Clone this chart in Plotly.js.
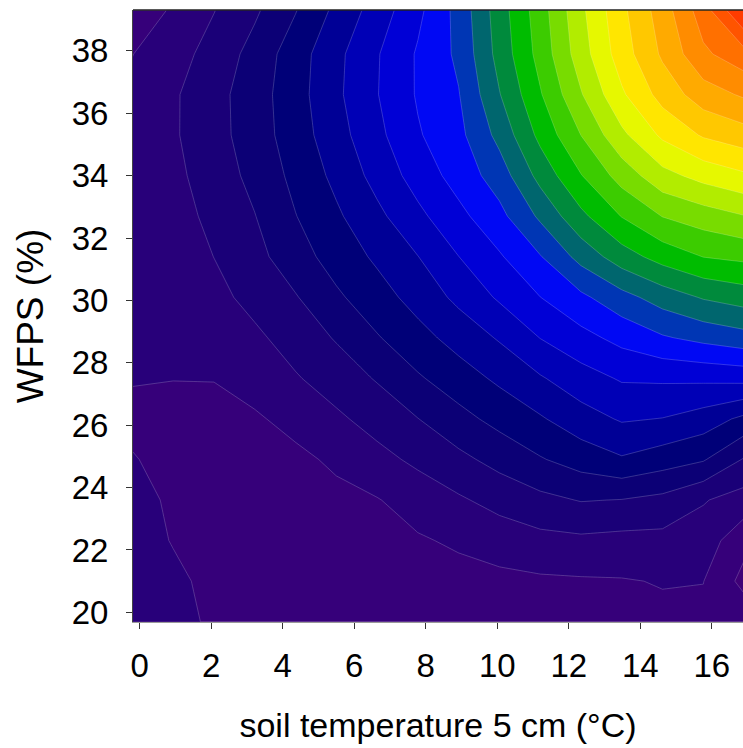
<!DOCTYPE html>
<html>
<head>
<meta charset="utf-8">
<script src="https://cdn.plot.ly/plotly-3.0.1.min.js"></script>
<style>html,body{margin:0;padding:0;background:#fff;}#chart{width:743px;height:748px;}</style>
</head>
<body>
<div id="chart"></div>
<script>
// soil temperature at 5 cm (°C) – grid columns
var soilTemp = [-0.2, 0.94, 2.08, 3.22, 4.36, 5.5, 6.64, 7.78, 8.92, 10.06, 11.2, 12.34, 13.48, 14.62, 15.76, 16.9];
// WFPS (%) – grid rows
var wfps = [19.7, 21.0, 22.3, 23.6, 24.9, 26.2, 27.5, 28.8, 30.1, 31.4, 32.7, 34.0, 35.3, 36.6, 37.9, 39.3];
// response values (rows follow wfps, columns follow soilTemp)
var flux = [
  [1.35, 1.2, 0.9, 0.75, 0.65, 0.62, 0.6, 0.6, 0.62, 0.65, 0.7, 0.72, 0.75, 0.8, 0.75, 0.7],
  [1.3, 1.12, 0.85, 0.7, 0.62, 0.6, 0.6, 0.62, 0.68, 0.75, 0.85, 0.9, 0.94, 1.05, 1.02, -0.3],
  [1.25, 0.97, 0.8, 0.7, 0.65, 0.7, 0.78, 0.9, 1.14, 1.46, 1.71, 1.8, 1.7, 1.7, 1.53, 0.3],
  [1.15, 0.93, 0.8, 0.72, 0.7, 0.72, 0.95, 1.41, 1.87, 2.33, 2.74, 3.05, 2.97, 2.73, 2.07, 1.58],
  [1.02, 0.9, 0.8, 0.78, 0.75, 1.19, 1.69, 2.21, 2.75, 3.33, 3.92, 4.43, 4.89, 4.47, 4.09, 2.92],
  [0.92, 0.85, 0.8, 0.86, 1.34, 1.82, 2.38, 2.98, 3.68, 4.31, 4.89, 5.58, 6.1, 5.97, 5.54, 4.76],
  [1.02, 1.01, 1.02, 1.45, 1.91, 2.47, 3.08, 3.88, 4.54, 5.19, 5.9, 6.58, 7.1, 7.15, 7.2, 7.31],
  [1.05, 1.15, 1.35, 1.8, 2.43, 3.08, 3.92, 4.66, 5.37, 6.1, 7.02, 7.68, 8.3, 8.89, 9.28, 9.62],
  [1.12, 1.3, 1.7, 2.32, 2.93, 3.83, 4.59, 5.37, 6.24, 7.14, 7.99, 8.79, 9.65, 10.45, 11.09, 11.45],
  [1.2, 1.38, 2.01, 2.69, 3.57, 4.42, 5.17, 5.98, 6.99, 7.89, 8.94, 10.34, 11.54, 12.4, 13.02, 13.23],
  [1.35, 1.57, 2.27, 2.97, 3.97, 4.84, 5.76, 6.76, 7.73, 8.71, 10.18, 11.76, 13.04, 14.03, 14.5, 14.96],
  [1.35, 1.75, 2.48, 3.28, 4.27, 5.25, 6.34, 7.42, 8.4, 9.48, 11.33, 12.95, 14.41, 15.67, 16.35, 16.84],
  [1.3, 1.88, 2.63, 3.51, 4.51, 5.6, 6.74, 7.9, 8.73, 10.3, 12.27, 14.01, 15.77, 17.19, 18.11, 18.57],
  [1.25, 1.87, 2.65, 3.54, 4.6, 5.8, 6.96, 8.1, 8.95, 10.95, 12.91, 14.92, 16.85, 18.38, 19.53, 20.14],
  [0.98, 1.61, 2.36, 3.36, 4.53, 5.74, 6.92, 8.11, 9.2, 11.36, 13.36, 15.54, 17.51, 19.16, 20.81, 21.63],
  [0.5, 1.1, 1.97, 2.84, 3.95, 5.24, 6.45, 7.76, 9.33, 11.52, 13.54, 15.78, 17.76, 19.5, 21.52, 24.1]
];
// band colours, lowest to highest
var bandColors = ['#3f0077','#36007a','#28007a','#1a0078','#0c0076','#000078','#000096','#0000b6','#0000d6','#0008f4',
  '#0036b4','#00666e','#008a3c','#00bc00','#3ccc00','#78dc00','#b2ec00','#e6f800','#ffe600','#ffc800',
  '#ffaa00','#ff8c00','#ff7000','#ff5400','#ff3c00'];
var xTicks = [0, 2, 4, 6, 8, 10, 12, 14, 16];
var yTicks = [20, 22, 24, 26, 28, 30, 32, 34, 36, 38];

var n = bandColors.length - 1;
var colorscale = bandColors.map(function(c, i){ return [i / n, c]; });

var trace = {
  type: 'contour',
  x: soilTemp, y: wfps, z: flux,
  colorscale: colorscale,
  autocontour: false,
  contours: {start: 0, end: 23, size: 1, coloring: 'fill', showlines: true},
  line: {color: 'rgba(255,255,255,0.32)', width: 0.6, smoothing: 0},
  showscale: false,
  hoverinfo: 'skip'
};

var fontFam = 'Liberation Sans, Arial, sans-serif';
var layout = {
  width: 743, height: 748,
  margin: {l: 133, r: 0, t: 10, b: 126},
  paper_bgcolor: '#fff', plot_bgcolor: '#fff',
  font: {family: fontFam, color: '#000'},
  showlegend: false,
  xaxis: {
    range: [-0.184, 16.87], tickvals: xTicks, ticks: 'outside', ticklen: 6, tickwidth: 1, tickcolor: '#333',
    showline: true, linecolor: '#9a9a9a', linewidth: 1, showgrid: false, zeroline: false,
    tickfont: {size: 33, family: fontFam, color: '#000'}, ticklabelstandoff: 8,
    title: {text: 'soil temperature 5 cm (°C)', font: {size: 34, family: fontFam, color: '#000'}, standoff: 30},
    automargin: false
  },
  yaxis: {
    range: [19.69, 39.31], tickvals: yTicks, ticks: 'outside', ticklen: 6, tickwidth: 1, tickcolor: '#333',
    showline: true, linecolor: '#444', linewidth: 1, showgrid: false, zeroline: false,
    tickfont: {size: 33, family: fontFam, color: '#000'}, ticklabelstandoff: 11,
    title: {text: 'WFPS (%)', font: {size: 37, family: fontFam, color: '#000'}, standoff: 16},
    automargin: false
  },
  shapes: [{type: 'line', xref: 'paper', yref: 'paper', x0: 0, x1: 1, y0: 1, y1: 1, line: {color: '#222', width: 1.5}}]
};

Plotly.newPlot('chart', [trace], layout, {displayModeBar: false, staticPlot: true});
</script>
</body>
</html>
